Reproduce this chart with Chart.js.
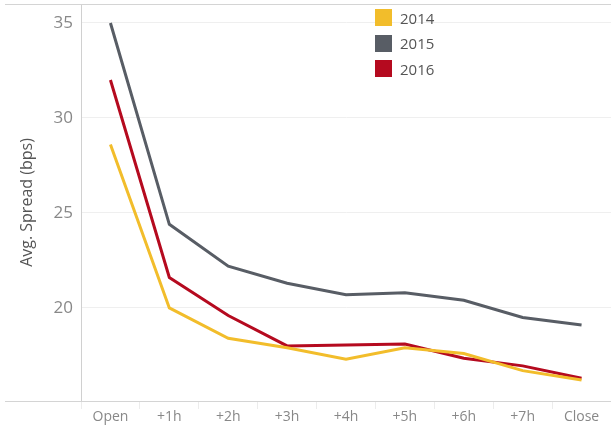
<!DOCTYPE html>
<html>
<head>
<meta charset="utf-8">
<script src="https://cdn.jsdelivr.net/npm/chart.js@4"></script>
<style>
  html, body { margin: 0; padding: 0; background: #fff; }
  #wrap { position: relative; width: 611px; height: 431px; }
  #legend { position: absolute; left: 375px; top: 5px; font-family: "Open Sans", sans-serif; font-size: 15px; color: #555; }
  .row { display: flex; align-items: center; height: 25.5px; }
  .sw { width: 17px; height: 17px; margin-right: 8px; }
</style>
</head>
<body>
<div id="wrap">
  <canvas id="chart" width="611" height="431"></canvas>
  <div id="legend"></div>
</div>
<script>
const categories = ['Open', '+1h', '+2h', '+3h', '+4h', '+5h', '+6h', '+7h', 'Close'];
const years = ['2014', '2015', '2016'];
const spread2014 = [28.6, 20.0, 18.4, 17.9, 17.3, 17.9, 17.6, 16.7, 16.2];
const spread2015 = [35.0, 24.4, 22.2, 21.3, 20.7, 20.8, 20.4, 19.5, 19.1];
const spread2016 = [32.0, 21.6, 19.6, 18.0, 18.05, 18.1, 17.35, 16.95, 16.3];
const yTicks = [20, 25, 30, 35];
const colors = ['#F2BD2B', '#585D65', '#B50A1F'];

document.addEventListener('DOMContentLoaded', function() {
    const series = [spread2014, spread2015, spread2016];

    // legend
    const legend = document.getElementById('legend');
    years.forEach((y, i) => {
        const row = document.createElement('div');
        row.className = 'row';
        row.innerHTML = '<div class="sw" style="background:' + colors[i] + '"></div><span>' + y + '</span>';
        legend.appendChild(row);
    });

    // frame lines like the tableau sheet
    const framePlugin = {
        id: 'frame',
        afterDraw(chart) {
            const c = chart.ctx, a = chart.chartArea;
            c.save();
            c.strokeStyle = '#d4d4d4';
            c.lineWidth = 1;
            c.beginPath();
            c.moveTo(5, a.top + 0.5); c.lineTo(chart.width, a.top + 0.5);
            c.moveTo(5, a.bottom + 0.5); c.lineTo(chart.width, a.bottom + 0.5);
            c.stroke();
            c.restore();
        }
    };

    new Chart(document.getElementById('chart'), {
        type: 'line',
        data: {
            labels: categories,
            datasets: years.map((y, i) => ({
                label: y,
                data: series[i],
                borderColor: colors[i],
                backgroundColor: colors[i],
                borderWidth: 3,
                pointRadius: 0,
                tension: 0
            }))
        },
        options: {
            responsive: false,
            animation: false,
            layout: { padding: { top: 4, right: 0, left: 0, bottom: 0 } },
            plugins: { legend: { display: false }, tooltip: { enabled: false } },
            scales: {
                x: {
                    offset: true,
                    grid: { offset: true, drawOnChartArea: false, drawTicks: true, tickLength: 8, color: '#ececec' },
                    border: { display: false },
                    ticks: { color: '#888', font: { family: 'Open Sans', size: 14 }, padding: 0, maxRotation: 0, autoSkip: false },
                    afterFit(s) { s.height = 30; s.paddingLeft = 0; s.paddingRight = 0; }
                },
                y: {
                    min: 15.1,
                    max: 36,
                    afterBuildTicks(s) { s.ticks = yTicks.map(v => ({ value: v })); },
                    grid: { color: '#efefef', drawTicks: false },
                    border: { color: '#d0d0d0' },
                    ticks: { color: '#888', font: { family: 'Open Sans', size: 17 }, padding: 8 },
                    title: { display: true, text: 'Avg. Spread (bps)', color: '#555', font: { family: 'Open Sans', size: 16 }, padding: { top: 18, bottom: 0 } },
                    afterFit(s) { s.width = 81; s.paddingTop = 0; s.paddingBottom = 0; }
                }
            }
        },
        plugins: [framePlugin]
    });
});
</script>
</body>
</html>
